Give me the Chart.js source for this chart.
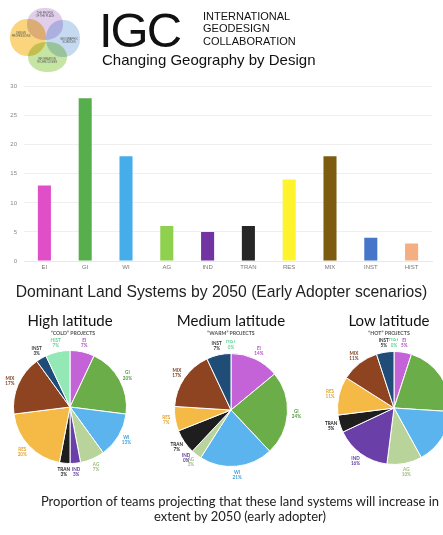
<!DOCTYPE html>
<html>
<head>
<meta charset="utf-8">
<script src="https://cdn.jsdelivr.net/npm/chart.js@4.4.0/dist/chart.umd.min.js"></script>
<style>
  html, body { margin: 0; padding: 0; width: 443px; height: 535px; overflow: hidden; background: #fff; }
  body { position: relative; font-family: "Liberation Sans", Arial, sans-serif; color: #111; }
  .abs { position: absolute; white-space: nowrap; }
  .blob { position: absolute; border-radius: 48%; mix-blend-mode: multiply; }
  .tiny { position: absolute; font-size: 2.6px; line-height: 3px; color: #555; text-align: center; font-family: "Liberation Sans", sans-serif; }
  .pieTitle { position: absolute; font-family: Lato, "Open Sans", sans-serif; font-size: 15px; line-height: 16px; text-align: center; width: 160px; color: #111; }
  .pieSub { position: absolute; font-family: Lato, sans-serif; font-weight: bold; font-size: 5.2px; line-height: 6px; text-align: center; width: 160px; color: #555; }
  .box { position: absolute; }
</style>
</head>
<body>

<!-- logo -->
<div class="blob" style="left:10px;top:19px;width:36px;height:37px;background:rgba(249,203,92,0.8)"></div>
<div class="blob" style="left:27px;top:8px;width:36px;height:32px;background:rgba(214,190,228,0.75)"></div>
<div class="blob" style="left:46px;top:20px;width:34px;height:37px;background:rgba(178,204,236,0.75)"></div>
<div class="blob" style="left:28px;top:42px;width:39px;height:30px;background:rgba(184,222,140,0.8)"></div>
<div class="tiny" style="left:32px;top:12px;width:26px">THE PEOPLE<br>OF THE PLACE</div>
<div class="tiny" style="left:10px;top:32px;width:22px">DESIGN<br>PROFESSIONS</div>
<div class="tiny" style="left:58px;top:38px;width:22px">GEOGRAPHIC<br>SCIENCES</div>
<div class="tiny" style="left:33px;top:58px;width:28px">INFORMATION<br>TECHNOLOGIES</div>

<div class="abs" style="left:99px;top:6px;font-size:49px;line-height:49px;letter-spacing:-2px">IGC</div>
<div class="abs" style="left:203px;top:10px;font-size:11px;line-height:12.3px">INTERNATIONAL<br>GEODESIGN<br>COLLABORATION</div>
<div class="abs" style="left:102px;top:52px;font-size:15px;line-height:15px">Changing Geography by Design</div>

<div class="box" style="left:0;top:76px;width:443px;height:200px"><canvas id="bars"></canvas></div>

<div class="abs" style="left:0;top:283px;width:443px;text-align:center;font-size:15.7px;line-height:17px;color:#222">Dominant Land Systems by 2050 (Early Adopter scenarios)</div>

<div class="pieTitle" style="left:-10px;top:312px">High latitude</div>
<div class="pieSub" style="left:-7px;top:330px">“COLD” PROJECTS</div>
<div class="pieTitle" style="left:151px;top:312px">Medium latitude</div>
<div class="pieSub" style="left:151px;top:330px">“WARM” PROJECTS</div>
<div class="pieTitle" style="left:309px;top:312px">Low latitude</div>
<div class="pieSub" style="left:309px;top:330px">“HOT” PROJECTS</div>

<div class="box" style="left:-5px;top:337px;width:150px;height:140px"><canvas id="pieHigh"></canvas></div>
<div class="box" style="left:156px;top:340px;width:150px;height:140px"><canvas id="pieMed"></canvas></div>
<div class="box" style="left:319px;top:338px;width:150px;height:140px"><canvas id="pieLow"></canvas></div>

<div class="abs" style="left:0;top:494px;width:480px;text-align:center;font-family:Lato,sans-serif;font-size:13px;line-height:15px;color:#222">Proportion of teams projecting that these land systems will increase in<br>extent by 2050 (early adopter)</div>

<script>
// land system codes
const landCodes = ['EI', 'GI', 'WI', 'AG', 'IND', 'TRAN', 'RES', 'MIX', 'INST', 'HIST'];

// bar chart: number of scenarios per dominant land system
const dominantCounts = [13, 28, 18, 6, 5, 6, 14, 18, 4, 3];
const barColours = ['#e04ec8', '#56ae4c', '#46adeb', '#8fd04e', '#7233a3', '#262626', '#fff32e', '#7d5c12', '#4676c9', '#f5ae82'];
const countTicks = [0, 5, 10, 15, 20, 25, 30];

// pies: % of teams projecting an increase
const highLatitude = [7, 20, 13, 7, 3, 3, 20, 17, 3, 7];
const mediumLatitude = [14, 24, 21, 3, 0, 7, 7, 17, 7, 0];
const lowLatitude = [5, 21, 16, 10, 16, 5, 11, 11, 5, 0];
const pieColours = ['#c463d8', '#6bae49', '#5cb4ee', '#b8d49b', '#6a3fa8', '#1e1e1e', '#f4ba45', '#8e4420', '#1f4d78', '#93e8b6'];
const labelColours = ['#b052c4', '#4f9a3d', '#3f9cd8', '#9db97c', '#5e3a9a', '#222222', '#e0a536', '#7a3e1c', '#333333', '#5fd394'];

new Chart(document.getElementById('bars'), {
    type: 'bar',
    data: {
        labels: landCodes,
        datasets: [{
            data: dominantCounts,
            backgroundColor: barColours,
            barPercentage: 0.32,
            categoryPercentage: 1
        }]
    },
    options: {
        responsive: true,
        maintainAspectRatio: false,
        animation: false,
        layout: { padding: { top: 9, right: 11, left: 0, bottom: 0 } },
        plugins: { legend: { display: false }, tooltip: { enabled: false } },
        scales: {
            x: {
                grid: { display: false, drawTicks: false },
                border: { color: '#e8e8e8' },
                ticks: { color: '#777', font: { size: 6, family: 'Liberation Sans' }, padding: 3 },
                afterFit: (s) => { s.height = 15; }
            },
            y: {
                min: 0,
                max: 30,
                afterBuildTicks: (s) => { s.ticks = countTicks.map(v => ({ value: v })); },
                grid: { color: '#efefef', drawTicks: false },
                border: { display: false },
                ticks: { color: '#888', font: { size: 6, family: 'Liberation Sans' }, padding: 7 },
                afterFit: (s) => { s.width = 24; }
            }
        }
    }
});

// small coloured name / percent labels around each pie
const pieLabels = {
    id: 'pieLabels',
    afterDatasetsDraw(chart) {
        const ctx = chart.ctx;
        const values = chart.data.datasets[0].data;
        ctx.save();
        ctx.textAlign = 'center';
        ctx.textBaseline = 'middle';
        ctx.font = 'bold 4.6px Lato';
        chart.getDatasetMeta(0).data.forEach((arc, i) => {
            const mid = (arc.startAngle + arc.endAngle) / 2;
            const r = arc.outerRadius + 9;
            const x = arc.x + Math.cos(mid) * r;
            const y = arc.y + Math.sin(mid) * r;
            ctx.fillStyle = labelColours[i];
            ctx.fillText(landCodes[i], x, y - 2.6);
            ctx.fillText(values[i] + '%', x, y + 2.6);
        });
        ctx.restore();
    }
};

function makePie(id, values) {
    new Chart(document.getElementById(id), {
        type: 'pie',
        data: {
            labels: landCodes,
            datasets: [{
                data: values,
                backgroundColor: pieColours,
                borderColor: '#ffffff',
                borderWidth: 1
            }]
        },
        options: {
            responsive: true,
            maintainAspectRatio: false,
            animation: false,
            layout: { padding: { top: 13, bottom: 13, left: 18, right: 18 } },
            plugins: { legend: { display: false }, tooltip: { enabled: false } }
        },
        plugins: [pieLabels]
    });
}

makePie('pieHigh', highLatitude);
makePie('pieMed', mediumLatitude);
makePie('pieLow', lowLatitude);
</script>
</body>
</html>
